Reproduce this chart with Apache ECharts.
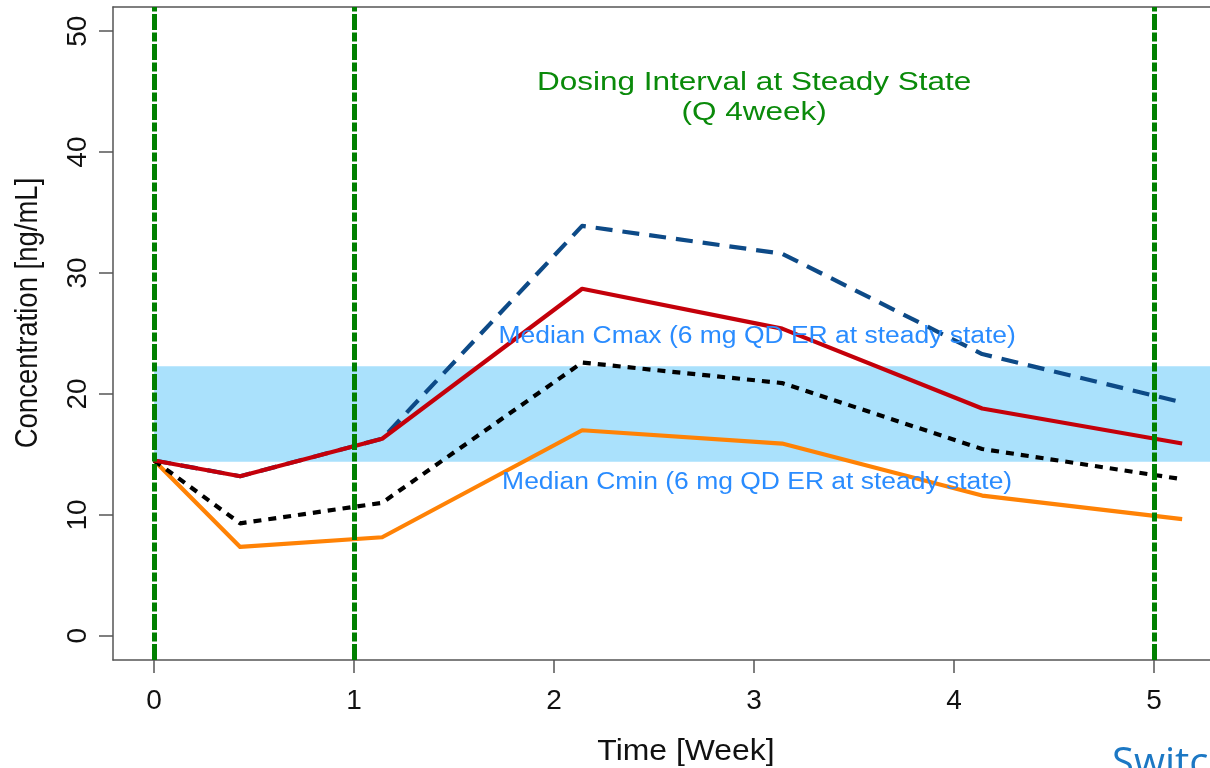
<!DOCTYPE html>
<html>
<head>
<meta charset="utf-8">
<script src="https://cdn.jsdelivr.net/npm/echarts@6/dist/echarts.min.js"></script>
<style>
  html, body { margin: 0; padding: 0; background: #ffffff; }
  #chart { width: 1210px; height: 768px; }
</style>
</head>
<body>
<div id="chart"></div>
<script>
// Sampling times (weeks after the switch)
const weeks = [0, 0.43, 1.14, 2.14, 3.14, 4.14, 5.14];

// Concentration profiles [ng/mL]
const upperConc  = [14.5, 13.2, 16.3, 33.9, 31.6, 23.3, 19.3];  // dashed navy
const medianConc = [14.5, 13.2, 16.3, 28.7, 25.4, 18.8, 15.9];  // solid red
const meanConc   = [14.5, 9.3, 11.0, 22.6, 20.9, 15.45, 12.95]; // dotted black
const lowerConc  = [14.5, 7.35, 8.15, 17.0, 15.9, 11.6, 9.65];  // solid orange

// Steady-state reference band (median Cmin .. median Cmax)
const steadyCmin = 14.4;
const steadyCmax = 22.3;

// Dosing times marked with vertical lines
const doseWeeks = [0, 1, 5];

// Axis ticks
const xTicks = [0, 1, 2, 3, 4, 5];
const yTicks = [0, 10, 20, 30, 40, 50];

// Visible axis window (plot continues past the right edge of the page)
const xMin = -0.2057, xMax = 5.2793;
const yMin = -2, yMax = 52;

const FONT = '"Liberation Sans", Arial, sans-serif';
const FRAME = { color: '#555555', width: 1.5 };

function pairs(ys) { return weeks.map((w, i) => [w, ys[i]]); }

const chart = echarts.init(document.getElementById('chart'), null, { renderer: 'canvas' });

const lineSeries = (name, data, color, type, z) => ({
  name, type: 'line', data: pairs(data), symbol: 'none', z,
  lineStyle: { color, width: 4.2, type, cap: 'butt', join: 'round' },
  animation: false
});

chart.setOption({
  animation: false,
  backgroundColor: '#ffffff',
  grid: { left: 113, top: 7, width: 1097, height: 653, show: false, containLabel: false },
  xAxis: [
    {
      type: 'value', min: xMin, max: xMax,
      axisLine: { show: true, onZero: false, lineStyle: FRAME },
      axisTick: { show: true, length: 13, customValues: xTicks, lineStyle: FRAME },
      axisLabel: { customValues: xTicks, fontSize: 28, fontFamily: FONT, color: '#111111', margin: 27 },
      splitLine: { show: false }
    },
    {
      // top edge of the plot frame
      type: 'value', position: 'top', min: xMin, max: xMax,
      axisLine: { show: true, onZero: false, lineStyle: FRAME },
      axisTick: { show: false }, axisLabel: { show: false }, splitLine: { show: false }
    }
  ],
  yAxis: {
    type: 'value', min: yMin, max: yMax,
    axisLine: { show: true, onZero: false, lineStyle: FRAME },
    axisTick: { show: true, length: 14, customValues: yTicks, lineStyle: FRAME },
    axisLabel: { customValues: yTicks, fontSize: 28, fontFamily: FONT, color: '#111111', rotate: 90, margin: 21 },
    splitLine: { show: false }
  },
  series: [
    {
      name: 'band', type: 'line', data: [], z: 1, silent: true,
      markArea: {
        silent: true,
        itemStyle: { color: '#aae1fc', opacity: 1 },
        label: { show: false },
        data: [[{ xAxis: 0, yAxis: steadyCmin }, { xAxis: xMax, yAxis: steadyCmax }]]
      }
    },
    lineSeries('upper', upperConc, '#0d4a87', [17, 10], 2),
    lineSeries('lower', lowerConc, '#ff8205', 'solid', 3),
    lineSeries('mean', meanConc, '#000000', [8, 7], 3),
    lineSeries('median', medianConc, '#c4000a', 'solid', 4),
    {
      name: 'dosing', type: 'line', data: [], z: 6, silent: true,
      markLine: {
        silent: true, symbol: ['none', 'none'],
        label: { show: false },
        lineStyle: { color: '#008000', width: 5, type: [16, 2.5, 9, 2.5], cap: 'butt' },
        data: doseWeeks.map(w => ({ xAxis: w }))
      }
    }
  ]
});

// Annotations placed in data coordinates
const px = (x, y) => chart.convertToPixel({ xAxisIndex: 0, yAxisIndex: 0 }, [x, y]);
const t1 = px(3.0, 45.7), t2 = px(3.0, 43.2);
const cmaxPos = px(3.015, 24.7), cminPos = px(3.015, 12.7);

const textEl = (p, text, size, color, sx) => ({
  type: 'text', x: p[0], y: p[1], scaleX: sx || 1, z: 10,
  style: { text, fontSize: size, fontFamily: FONT, fill: color, align: 'center', verticalAlign: 'middle' }
});

chart.setOption({
  graphic: [
    textEl(t1, 'Dosing Interval at Steady State', 25, '#0a8a0a', 1.26),
    textEl(t2, '(Q 4week)', 25, '#0a8a0a', 1.26),
    textEl(cmaxPos, 'Median Cmax (6 mg QD ER at steady state)', 23, '#2a8cff', 1.15),
    textEl(cminPos, 'Median Cmin (6 mg QD ER at steady state)', 23, '#2a8cff', 1.15),
    textEl([686, 752], 'Time [Week]', 29, '#111111', 1.1),
    {
      type: 'text', x: 28, y: 313, rotation: Math.PI / 2, scaleY: 1.15, z: 10,
      style: { text: 'Concentration [ng/mL]', fontSize: 27.5, fontFamily: FONT, fill: '#111111', align: 'center', verticalAlign: 'middle' }
    },
    {
      type: 'text', x: 1112, y: 765, z: 10,
      style: { text: 'Switch', fontSize: 40, fontFamily: '"Open Sans", "Noto Sans", sans-serif', fill: '#1c78c4', align: 'left', verticalAlign: 'middle' }
    }
  ]
});
</script>
</body>
</html>
